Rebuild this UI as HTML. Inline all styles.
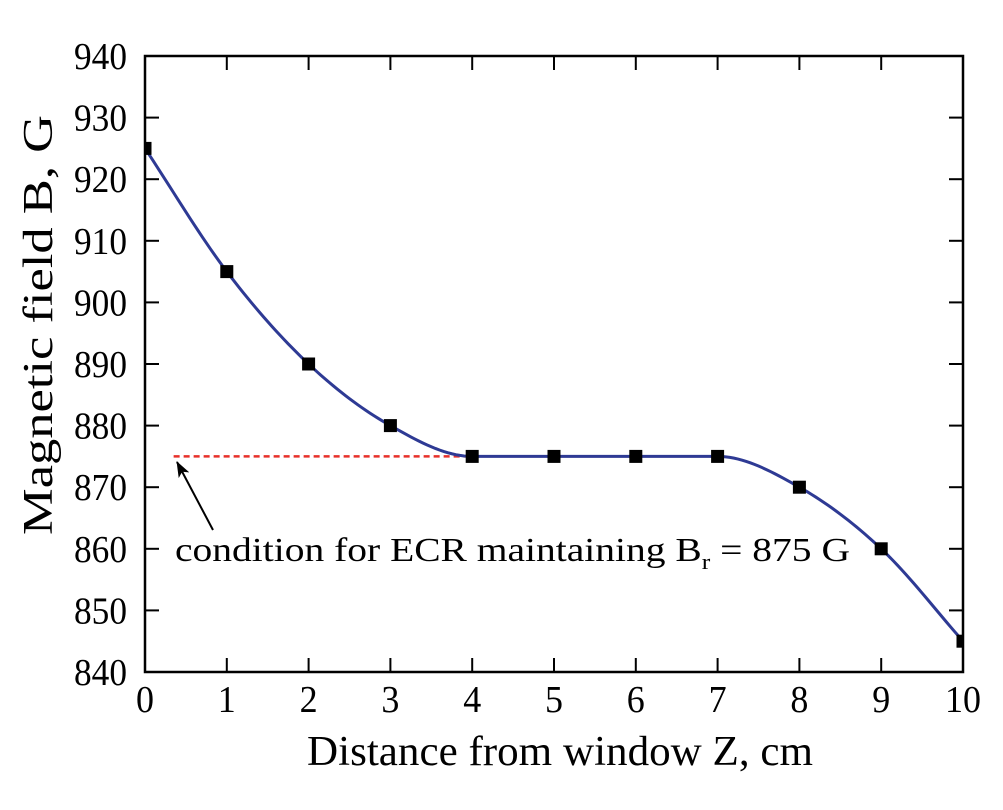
<!DOCTYPE html>
<html><head><meta charset="utf-8"><style>
body{margin:0;background:#fff}
svg text{font-family:"Liberation Serif",serif;fill:#000}
</style></head><body>
<svg id="chart" width="1003" height="805" viewBox="0 0 1003 805">
<defs><clipPath id="plotclip"><rect x="145" y="56" width="818" height="616"/></clipPath>
<marker id="arrowhead" markerWidth="16" markerHeight="12" refX="15" refY="6" orient="auto" markerUnits="userSpaceOnUse"><path d="M0,0 L16,6 L0,12 L4,6 z" fill="#000"/></marker></defs>
<g id="series" clip-path="url(#plotclip)"></g>
<rect x="145" y="56" width="818" height="616" fill="none" stroke="#000" stroke-width="2.5"/>
<g id="axes"></g>
<text x="560" y="765" font-size="42" text-anchor="middle" textLength="506" lengthAdjust="spacingAndGlyphs">Distance from window Z, cm</text>
<text transform="translate(52,325) rotate(-90)" font-size="42" text-anchor="middle" textLength="420" lengthAdjust="spacingAndGlyphs">Magnetic field B, G</text>
<line x1="213" y1="530" x2="177" y2="462" stroke="#000" stroke-width="2" marker-end="url(#arrowhead)"/>
<text x="175" y="561" font-size="34" textLength="675" lengthAdjust="spacingAndGlyphs">condition for ECR maintaining B<tspan font-size="22" dy="8">r</tspan><tspan dy="-8"> = 875 G</tspan></text>
</svg>
<script>
const xValues=[0,1,2,3,4,5,6,7,8,9,10];
const fieldValues=[925,905,890,880,875,875,875,875,870,860,845];
const xTicks=[0,1,2,3,4,5,6,7,8,9,10];
const yTicks=[840,850,860,870,880,890,900,910,920,930,940];
const resonanceValue=875;
const resonanceStartX=0.35;
const NS='http://www.w3.org/2000/svg';
const L=145,R=963,T=56,B=672;
const sx=v=>L+(v-0)/(10-0)*(R-L);
const sy=v=>B-(v-840)/(940-840)*(B-T);
function mk(tag,attrs,parent){const e=document.createElementNS(NS,tag);for(const k in attrs)e.setAttribute(k,attrs[k]);parent.appendChild(e);return e;}
const axes=document.getElementById('axes'),series=document.getElementById('series');
xTicks.forEach(t=>{
 const x=sx(t);
 let a=mk('line',{x1:x,y1:B,x2:x,y2:B-14,stroke:'#000','stroke-width':2},axes);
 
 let b=mk('line',{x1:x,y1:T,x2:x,y2:T+14,stroke:'#000','stroke-width':2},axes);
 
 const s=String(t);
 const tx=mk('text',{x:x,y:B+40,'font-size':38,'text-anchor':'middle',textLength:s.length*18,lengthAdjust:'spacingAndGlyphs'},axes);tx.textContent=s;
 
});
yTicks.forEach(t=>{
 const y=sy(t);
 let a=mk('line',{x1:L,y1:y,x2:L+14,y2:y,stroke:'#000','stroke-width':2},axes);
 
 let b=mk('line',{x1:R,y1:y,x2:R-14,y2:y,stroke:'#000','stroke-width':2},axes);
 
 const tx=mk('text',{x:L-18,y:y+13,'font-size':38,'text-anchor':'end',textLength:53,lengthAdjust:'spacingAndGlyphs'},axes);tx.textContent=t;
 
});
const dl=mk('line',{x1:sx(resonanceStartX),y1:sy(resonanceValue),x2:sx(xValues[4]),y2:sy(resonanceValue),stroke:'#e8302a','stroke-width':2.5,'stroke-dasharray':'6,4'},series);

const n=xValues.length,d=[],m=[];
for(let i=0;i<n-1;i++)d.push((fieldValues[i+1]-fieldValues[i])/(xValues[i+1]-xValues[i]));
m[0]=d[0];m[n-1]=d[n-2];
for(let i=1;i<n-1;i++){m[i]=(d[i-1]*d[i]<=0)?0:(d[i-1]+d[i])/2;}
for(let i=0;i<n-1;i++){if(d[i]===0){m[i]=0;m[i+1]=0;continue;}const a=m[i]/d[i],b=m[i+1]/d[i],s=a*a+b*b;if(s>9){const t=3/Math.sqrt(s);m[i]=t*a*d[i];m[i+1]=t*b*d[i];}}
let p='';
for(let i=0;i<n-1;i++){const h=xValues[i+1]-xValues[i];for(let k=0;k<=20;k++){const t=k/20,h00=2*t*t*t-3*t*t+1,h10=t*t*t-2*t*t+t,h01=-2*t*t*t+3*t*t,h11=t*t*t-t*t;
const v=h00*fieldValues[i]+h10*h*m[i]+h01*fieldValues[i+1]+h11*h*m[i+1];const x=xValues[i]+t*h;p+=(p?'L':'M')+sx(x).toFixed(2)+','+sy(v).toFixed(2);}}
const cv=mk('path',{d:p,fill:'none',stroke:'#2e3a94','stroke-width':3},series);

xValues.forEach((x,i)=>{const r=mk('rect',{x:sx(x)-6.5,y:sy(fieldValues[i])-6.5,width:13,height:13,fill:'#000'},series);
});
</script>
</body></html>
